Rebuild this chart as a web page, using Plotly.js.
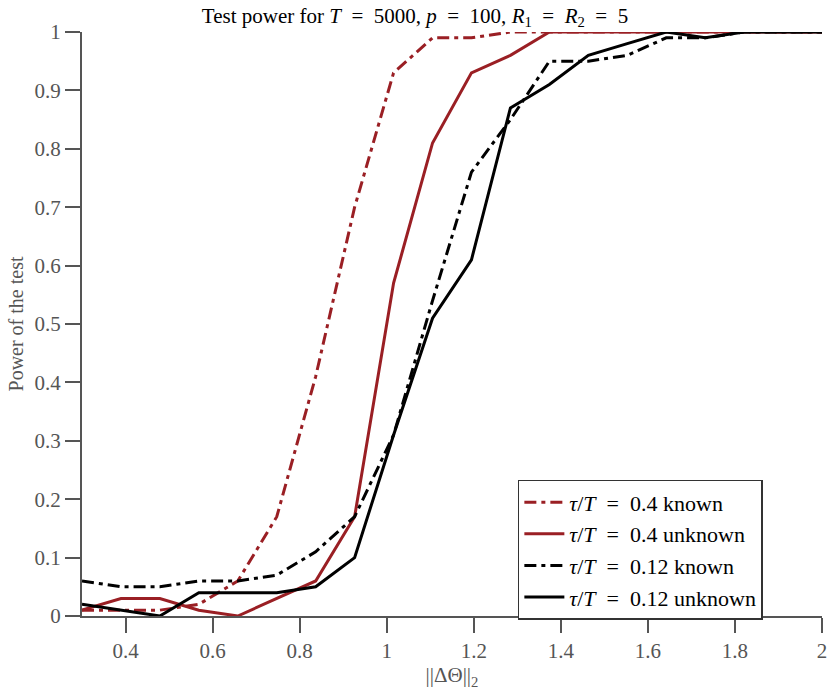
<!DOCTYPE html>
<html>
<head>
<meta charset="utf-8">
<script src="https://cdn.plot.ly/plotly-3.0.1.min.js"></script>
<style>
  body { margin: 0; background: #fff; }
  #chart { width: 830px; height: 695px; }
</style>
</head>
<body>
<div id="chart"></div>
<script>
// Data

const deltaNorm = [
  0.3, 0.3895, 0.4789, 0.5684, 0.6579, 0.7474, 0.8368, 0.9263, 1.0158, 1.1053,
  1.1947, 1.2842, 1.3737, 1.4632, 1.5526, 1.6421, 1.7316, 1.8211, 1.9105, 2.0,
];

const power04Known = [
  0.01, 0.01, 0.01, 0.02, 0.06, 0.17, 0.41, 0.7, 0.93, 0.99,
  0.99, 1, 1, 1, 1, 1, 1, 1, 1, 1,
];
const power04Unknown = [
  0.01, 0.03, 0.03, 0.01, 0, 0.03, 0.06, 0.17, 0.57, 0.81,
  0.93, 0.96, 1, 1, 1, 1, 1, 1, 1, 1,
];
const power012Known = [
  0.06, 0.05, 0.05, 0.06, 0.06, 0.07, 0.11, 0.17, 0.31, 0.54,
  0.76, 0.85, 0.95, 0.95, 0.96, 0.99, 0.99, 1, 1, 1,
];
const power012Unknown = [
  0.02, 0.01, 0, 0.04, 0.04, 0.04, 0.05, 0.1, 0.31, 0.51,
  0.61, 0.87, 0.91, 0.96, 0.98, 1, 0.99, 1, 1, 1,
];

const xTicks = [0.4, 0.6, 0.8, 1, 1.2, 1.4, 1.6, 1.8, 2];
const xTickLabels = ["0.4", "0.6", "0.8", "1", "1.2", "1.4", "1.6", "1.8", "2"];
const yTicks = [0, 0.1, 0.2, 0.3, 0.4, 0.5, 0.6, 0.7, 0.8, 0.9, 1];
const yTickLabels = ["0", "0.1", "0.2", "0.3", "0.4", "0.5", "0.6", "0.7", "0.8", "0.9", "1"];

// Styles

const RED = "#9a1f24";
const BLACK = "#000000";
const AXIS_GREY = "#555555";
const SERIF = "Liberation Serif, DejaVu Serif, serif";
const DASHDOT = "12px,5px,4px,5px";
const EQ = "&nbsp;&nbsp;=&nbsp;&nbsp;";

const makeTrace = function (y, name, color, dash) {
  return {
    x: deltaNorm,
    y: y,
    name: name,
    type: "scatter",
    mode: "lines",
    line: { color: color, width: 3, dash: dash },
  };
};

const data = [
  makeTrace(power04Known, `<i>τ</i>/<i>T</i>${EQ}0.4 known`, RED, DASHDOT),
  makeTrace(power04Unknown, `<i>τ</i>/<i>T</i>${EQ}0.4 unknown`, RED, "solid"),
  makeTrace(power012Known, `<i>τ</i>/<i>T</i>${EQ}0.12 known`, BLACK, DASHDOT),
  makeTrace(power012Unknown, `<i>τ</i>/<i>T</i>${EQ}0.12 unknown`, BLACK, "solid"),
];

const layout = {
  width: 830,
  height: 695,
  paper_bgcolor: "#ffffff",
  plot_bgcolor: "#ffffff",
  font: { family: SERIF, size: 20, color: AXIS_GREY },
  margin: { l: 82, r: 8, t: 32, b: 79 },
  title: {
    text: `Test power for <i>T</i>${EQ}5000, <i>p</i>${EQ}100, <i>R</i><sub>1</sub>${EQ}<i>R</i><sub>2</sub>${EQ}5`,
    font: { family: SERIF, size: 21, color: "#000000" },
    x: 0.5,
    xref: "container",
    y: 0.988,
    yanchor: "top",
  },
  xaxis: {
    range: [0.3, 2],
    tickvals: xTicks,
    ticktext: xTickLabels,
    ticks: "outside",
    ticklen: 15,
    tickwidth: 2,
    tickcolor: AXIS_GREY,
    showline: true,
    linecolor: AXIS_GREY,
    linewidth: 2,
    showgrid: false,
    zeroline: false,
    tickfont: { family: SERIF, size: 21, color: AXIS_GREY },
    title: {
      text: "||ΔΘ||<sub>2</sub>",
      font: { family: SERIF, size: 21, color: AXIS_GREY },
      standoff: 4,
    },
  },
  yaxis: {
    range: [0, 1],
    tickvals: yTicks,
    ticktext: yTickLabels,
    ticks: "outside",
    ticklen: 15,
    tickwidth: 2,
    tickcolor: AXIS_GREY,
    showline: true,
    linecolor: AXIS_GREY,
    linewidth: 2,
    showgrid: false,
    zeroline: false,
    tickfont: { family: SERIF, size: 21, color: AXIS_GREY },
    title: {
      text: "Power of the test",
      font: { family: SERIF, size: 20, color: AXIS_GREY },
      standoff: 6,
    },
  },
  showlegend: true,
  legend: {
    x: 0.589,
    y: 0.233,
    xanchor: "left",
    yanchor: "top",
    bgcolor: "#ffffff",
    bordercolor: "#333333",
    borderwidth: 1.5,
    font: { family: SERIF, size: 22, color: "#000000" },
    itemwidth: 40,
    tracegroupgap: 0,
  },
};

Plotly.newPlot("chart", data, layout, {
  displayModeBar: false,
  staticPlot: true,
});
</script>
</body>
</html>
